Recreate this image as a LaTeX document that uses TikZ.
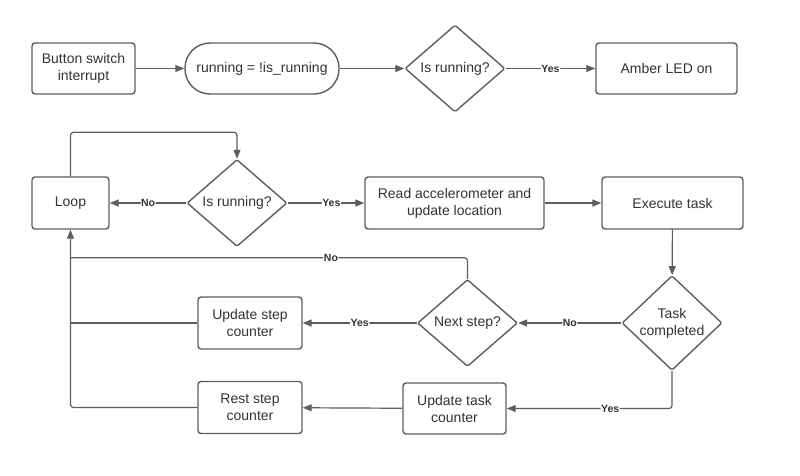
\documentclass[tikz,border=0pt]{standalone}
\usepackage{fontspec}
\setmainfont{Liberation Sans}
\usetikzlibrary{shapes.geometric,arrows.meta}
\definecolor{ln}{HTML}{5E5E5E}
\definecolor{tx}{HTML}{333333}
\begin{document}
\begin{tikzpicture}[x=1pt,y=-1pt,
  box/.style={draw=ln,line width=1.4pt,rounded corners=3pt,fill=white,text=tx,font=\fontsize{14}{17}\selectfont,align=center,inner sep=0pt},
  dia/.style={draw=ln,line width=1.4pt,diamond,fill=white,text=tx,font=\fontsize{14}{17}\selectfont,align=center,inner sep=0pt,minimum width=100pt,minimum height=87pt,rounded corners=1.5pt},
  lnk/.style={draw=ln,line width=1.2pt,rounded corners=3pt},
  arr/.style={lnk,-{Triangle[length=9pt,width=7pt]}},
  lbl/.style={fill=white,text=tx,font=\fontsize{10.5}{12}\bfseries\selectfont,inner sep=0.5pt}]
\useasboundingbox (0,0) rectangle (800,475);
\fill[white] (0,0) rectangle (800,475);
% top row
\node[box,minimum width=103pt,minimum height=51pt] (btn) at (83.5,68.5) {Button switch\\interrupt};
\node[box,minimum width=154pt,minimum height=51pt,rounded corners=25pt] (run) at (262,68.5) {running = !is\_running};
\node[dia] (d1) at (455,68.5) {Is running?};
\node[box,minimum width=141pt,minimum height=51pt] (amb) at (666.5,68.5) {Amber LED on};
% second row
\node[box,minimum width=77pt,minimum height=52pt] (loop) at (70.5,203) {Loop};
\node[dia] (d2) at (237,203) {Is running?};
\node[box,minimum width=179pt,minimum height=52pt] (read) at (454.5,203) {Read accelerometer and\\update location};
\node[box,minimum width=141pt,minimum height=52pt] (exec) at (672.5,203) {Execute task};
% third row
\node[box,minimum width=104pt,minimum height=52pt] (ups) at (250,323) {Update step\\counter};
\node[dia] (d4) at (467.5,323) {Next step?};
\node[dia] (d3) at (672,323) {Task\\completed};
% fourth row
\node[box,minimum width=104pt,minimum height=52pt] (rsc) at (250,407.5) {Rest step\\counter};
\node[box,minimum width=103pt,minimum height=51pt] (utc) at (454.5,408.5) {Update task\\counter};
% connectors
\draw[arr] (btn) -- (run);
\draw[arr] (run) -- (d1);
\draw[arr] (d1) -- node[lbl]{Yes} (amb);
\draw[arr] (loop.north) -- ++(0,-44) -| (d2.north);
\draw[arr] (d2) -- node[lbl]{No} (loop);
\draw[arr] (d2) -- node[lbl,pos=0.57]{Yes} (read);
\draw[arr] (read) -- (exec);
\draw[arr] (exec) -- (d3);
\draw[arr] (d3) -- node[lbl]{No} (d4);
\draw[arr] (d4) -- node[lbl]{Yes} (ups);
\draw[lnk] (d4.north) -- ++(0,-21) coordinate (nc) -- (nc -| loop.south) node[lbl,pos=0.344]{No};
\draw[arr] (d3.south) |- node[lbl,pos=0.687]{Yes} (utc.east);
\draw[arr] (utc) -- (rsc);
\draw[lnk] (ups.west) -- (ups.west -| loop.south);
\draw[arr] (rsc.west) -| (loop.south);
\end{tikzpicture}
\end{document}
